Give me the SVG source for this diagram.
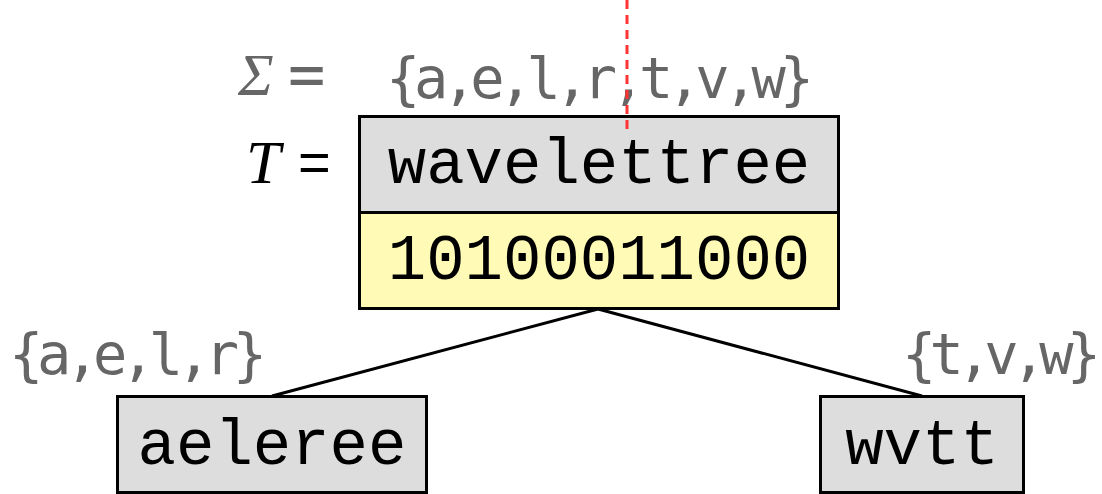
<svg xmlns="http://www.w3.org/2000/svg" width="1102" height="494" viewBox="0 0 1102 494">
<style>
.box{stroke:#000;stroke-width:3}
.g{fill:#ddd}
.y{fill:#fffbb6}
.mono{font-family:"Liberation Mono","DejaVu Sans Mono",monospace;font-size:64px;fill:#000;text-anchor:middle}
.set{font-family:"DejaVu Sans Mono","Liberation Mono",monospace;font-size:57px;fill:#666}
.conn{stroke:#000;stroke-width:3;fill:none}
</style>
<rect width="1102" height="494" fill="#fff"/>
<g id="labels">
<text x="238" y="95" font-family="Liberation Serif,serif" font-style="italic" font-size="60" fill="#666">Σ</text>
<text x="288" y="96" font-family="DejaVu Sans Mono,monospace" font-size="62" fill="#666">=</text>
<text x="386" y="98" class="set" textLength="428">{a,e,l,r,t,v,w}</text>
<text x="246" y="183" font-family="Liberation Serif,serif" font-style="italic" font-size="62" fill="#000">T</text>
<text x="298" y="181" font-family="Liberation Sans,sans-serif" font-size="56" fill="#000">=</text>
<text x="9" y="374" class="set" textLength="258">{a,e,l,r}</text>
<text x="902" y="374" class="set" textLength="199">{t,v,w}</text>
</g>
<g id="connectors">
<line class="conn" x1="598" y1="309" x2="272" y2="396"/>
<line class="conn" x1="598" y1="309" x2="922" y2="396"/>
</g>
<g id="root">
<rect class="box g" x="359.5" y="116.5" width="479" height="96"/>
<rect class="box y" x="359.5" y="212.5" width="479" height="96"/>
<text class="mono" x="599" y="183">wavelettree</text>
<text class="mono" x="599" y="279">10100011000</text>
</g>
<g id="left">
<rect class="box g" x="117.5" y="396.5" width="309" height="96"/>
<text class="mono" x="272" y="464">aeleree</text>
</g>
<g id="right">
<rect class="box g" x="820.5" y="396.5" width="203" height="96"/>
<text class="mono" x="922" y="464">wvtt</text>
</g>
<line id="split" x1="627" y1="0" x2="627" y2="132" stroke="#f33" stroke-width="3" stroke-dasharray="9,6"/>
</svg>
